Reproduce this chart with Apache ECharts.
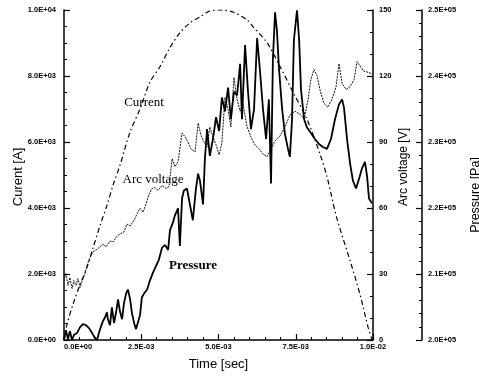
<!DOCTYPE html>
<html>
<head>
<meta charset="utf-8">
<script src="https://cdn.jsdelivr.net/npm/echarts@6/dist/echarts.min.js"></script>
<style>
html,body{margin:0;padding:0;background:#fff;}
#chart{width:479px;height:376px;}
</style>
</head>
<body>
<div id="chart"></div>
<script>
// Time values are in milliseconds; axis labels show seconds.
const currentPoints = [[0,0],[0.10,480],[0.29,1080],[0.52,1680],[0.74,2190],[0.94,2790],[1.17,3480],[1.39,4080],[1.59,4700],[1.81,5290],[2.14,6310],[2.46,7000],[2.78,7810],[3.11,8290],[3.43,8860],[3.75,9310],[4.08,9610],[4.40,9790],[4.72,9970],[5.05,10000],[5.47,9940],[5.92,9700],[6.12,9490],[6.57,9010],[6.99,8290],[7.41,7510],[7.86,6700],[8.28,5650],[8.51,4950],[8.83,3690],[9.26,2400],[9.58,1380],[9.84,390],[9.97,0]];

const voltagePoints = [[0,27.5],[0.06,30.2],[0.13,24.8],[0.19,28.4],[0.26,23.4],[0.32,27.0],[0.39,24.8],[0.45,27.9],[0.52,23.9],[0.58,26.6],[0.68,30.2],[0.74,33.8],[0.84,37.4],[0.94,40.1],[1.04,41.0],[1.17,42.3],[1.26,43.7],[1.36,42.3],[1.49,45.0],[1.59,44.6],[1.72,47.3],[1.81,48.2],[1.94,49.1],[2.04,52.7],[2.14,51.8],[2.27,54.5],[2.36,57.2],[2.46,59.9],[2.56,58.1],[2.65,61.7],[2.75,66.2],[2.85,68.9],[2.94,69.3],[3.04,68.0],[3.17,70.2],[3.30,68.9],[3.40,69.8],[3.50,82.4],[3.59,78.8],[3.69,81.0],[3.82,94.1],[3.92,92.3],[4.01,90.0],[4.11,86.9],[4.24,85.5],[4.34,98.6],[4.43,93.2],[4.53,90.0],[4.63,87.8],[4.72,96.8],[4.82,92.3],[4.92,88.7],[5.02,84.2],[5.11,89.6],[5.21,110.3],[5.31,104.9],[5.40,96.8],[5.50,119.3],[5.60,109.4],[5.70,104.0],[5.79,107.6],[5.92,97.2],[6.05,92.3],[6.18,88.7],[6.31,86.9],[6.44,84.6],[6.57,83.3],[6.70,86.9],[6.83,90.5],[6.99,92.7],[7.15,96.8],[7.31,102.2],[7.48,104.0],[7.64,102.6],[7.77,100.4],[7.90,109.4],[7.99,118.4],[8.09,122.9],[8.19,120.2],[8.28,113.9],[8.41,107.6],[8.54,105.8],[8.67,109.4],[8.80,114.8],[8.90,125.6],[9.00,116.6],[9.13,113.9],[9.26,115.2],[9.39,118.4],[9.48,126.5],[9.58,124.7],[9.68,122.4],[9.77,122.0],[9.87,121.5],[9.97,121.1]];

const pressurePoints = [[0,200000],[0.06,201500],[0.13,200150],[0.19,201350],[0.26,200000],[0.32,200750],[0.42,201050],[0.52,201950],[0.61,202400],[0.71,202250],[0.81,201800],[0.91,201050],[1.00,200300],[1.07,200000],[1.13,201050],[1.20,202100],[1.26,202850],[1.33,203450],[1.39,204200],[1.42,203150],[1.49,202250],[1.55,204950],[1.62,202550],[1.68,204050],[1.75,206150],[1.81,204350],[1.88,203150],[1.94,205550],[2.01,207050],[2.07,207650],[2.14,206150],[2.20,204050],[2.27,202550],[2.33,201650],[2.39,201950],[2.46,203750],[2.52,206450],[2.59,207050],[2.69,207650],[2.78,209000],[2.88,210200],[2.98,211250],[3.07,212150],[3.17,213950],[3.27,214400],[3.37,213650],[3.43,216650],[3.53,217850],[3.59,218900],[3.69,219950],[3.75,214250],[3.82,221450],[3.88,222650],[3.98,222950],[4.08,220400],[4.17,218150],[4.27,222950],[4.34,225200],[4.40,224150],[4.50,220550],[4.56,227450],[4.63,231950],[4.72,227900],[4.82,230450],[4.92,233750],[5.02,231650],[5.11,236750],[5.21,234650],[5.31,238250],[5.40,233450],[5.50,237650],[5.60,237050],[5.70,241850],[5.76,233450],[5.86,244700],[5.95,237950],[6.05,231950],[6.15,234950],[6.25,245750],[6.34,240950],[6.44,234950],[6.54,230450],[6.63,236450],[6.70,223700],[6.76,242450],[6.83,249650],[6.89,246950],[6.96,240950],[7.06,234950],[7.15,231200],[7.25,228950],[7.31,227750],[7.38,233450],[7.44,245450],[7.54,249950],[7.61,245450],[7.67,237950],[7.77,233450],[7.86,232250],[7.99,231350],[8.12,230450],[8.25,229700],[8.38,229250],[8.51,228950],[8.64,230450],[8.77,233450],[8.90,235700],[9.00,236450],[9.06,235250],[9.16,230450],[9.26,226700],[9.35,224150],[9.45,222950],[9.55,224450],[9.64,225950],[9.74,227000],[9.81,224750],[9.87,221450],[9.97,220700]];

const timeRangeMs = [0, 10];
const currentRange = [0, 10000];
const voltageRange = [0, 150];
const pressureRange = [200000, 250000];

function sci(v) {
  if (v === 0) return '0.0E+00';
  let e = Math.floor(Math.log10(Math.abs(v)) + 1e-9);
  let m = v / Math.pow(10, e);
  if (Math.round(m * 10) / 10 >= 10) { m /= 10; e++; }
  return m.toFixed(1) + 'E' + (e < 0 ? '-' : '+') + String(Math.abs(e)).padStart(2, '0');
}

const FONT = 'Liberation Sans, Arial, sans-serif';
const SERIF = 'Liberation Serif, Times New Roman, serif';
const tickLbl = {fontSize: 7.5, color: '#000', fontFamily: FONT, fontWeight: 'bold'};
const axLine = {show: true, lineStyle: {color: '#000', width: 1.5}};

const chart = echarts.init(document.getElementById('chart'), null, {renderer: 'canvas'});
chart.setOption({
  animation: false,
  backgroundColor: '#fff',
  grid: {left: 64, right: 106, top: 10, bottom: 33, containLabel: false},
  xAxis: {
    type: 'value', min: timeRangeMs[0], max: timeRangeMs[1], interval: 2.5,
    axisLine: axLine,
    axisTick: {show: true, inside: true, length: 6, lineStyle: {color: '#000', width: 1.2}},
    minorTick: {show: true, splitNumber: 5, length: 3, lineStyle: {color: '#000', width: 1}},
    splitLine: {show: false},
    axisLabel: Object.assign({margin: 3, formatter: v => sci(v * 1e-3), alignMinLabel: 'left'}, tickLbl),
    name: 'Time [sec]', nameLocation: 'middle', nameGap: 18,
    nameTextStyle: {fontSize: 13, fontFamily: FONT, color: '#000'}
  },
  yAxis: [
    {
      type: 'value', position: 'left', min: currentRange[0], max: currentRange[1], interval: 2000,
      axisLine: axLine,
      axisTick: {show: true, inside: true, length: 6, lineStyle: {color: '#000', width: 1.2}},
      minorTick: {show: true, splitNumber: 4, length: 3, lineStyle: {color: '#000', width: 1}},
      splitLine: {show: false},
      axisLabel: Object.assign({margin: 8, formatter: v => sci(v)}, tickLbl)
    },
    {
      type: 'value', position: 'right', offset: 0, min: voltageRange[0], max: voltageRange[1], interval: 30,
      axisLine: axLine,
      axisTick: {show: true, inside: true, length: 6, lineStyle: {color: '#000', width: 1.2}},
      minorTick: {show: true, splitNumber: 3, length: 3, lineStyle: {color: '#000', width: 1}},
      splitLine: {show: false},
      axisLabel: Object.assign({margin: 6}, tickLbl)
    },
    {
      type: 'value', position: 'right', offset: 49, min: pressureRange[0], max: pressureRange[1], interval: 10000,
      axisLine: axLine,
      axisTick: {show: true, inside: true, length: 6, lineStyle: {color: '#000', width: 1.2}},
      minorTick: {show: true, splitNumber: 5, length: 3, lineStyle: {color: '#000', width: 1}},
      splitLine: {show: false},
      axisLabel: Object.assign({margin: 6, formatter: v => sci(v)}, tickLbl)
    }
  ],
  series: [
    {
      name: 'Current', type: 'line', yAxisIndex: 0, data: currentPoints, showSymbol: false, smooth: 0.3,
      lineStyle: {color: '#000', width: 1.2, type: [5, 3, 1.5, 3]}
    },
    {
      name: 'Arc voltage', type: 'line', yAxisIndex: 1, data: voltagePoints, showSymbol: false,
      lineStyle: {color: '#111', width: 1, type: [2, 1]}
    },
    {
      name: 'Pressure', type: 'line', yAxisIndex: 2, data: pressurePoints, showSymbol: false,
      lineStyle: {color: '#000', width: 1.8}
    }
  ],
  graphic: [
    {type: 'text', x: 18, y: 177, rotation: Math.PI / 2,
     style: {text: 'Curent [A]', fontSize: 13, fontFamily: FONT, fill: '#000', align: 'center', verticalAlign: 'middle', textAlign: 'center', textVerticalAlign: 'middle'}},
    {type: 'text', x: 404, y: 167, rotation: Math.PI / 2,
     style: {text: 'Arc voltage [V]', fontSize: 12, fontFamily: FONT, fill: '#000', align: 'center', verticalAlign: 'middle', textAlign: 'center', textVerticalAlign: 'middle'}},
    {type: 'text', x: 476, y: 195, rotation: Math.PI / 2,
     style: {text: 'Pressure [Pa]', fontSize: 12.5, fontFamily: FONT, fill: '#000', align: 'center', verticalAlign: 'middle', textAlign: 'center', textVerticalAlign: 'middle'}},
    {type: 'text', x: 144, y: 103,
     style: {text: 'Current', fontSize: 13, fontFamily: SERIF, fill: '#000', align: 'center', verticalAlign: 'middle', textAlign: 'center', textVerticalAlign: 'middle'}},
    {type: 'text', x: 153, y: 180,
     style: {text: 'Arc voltage', fontSize: 13, fontFamily: SERIF, fill: '#000', align: 'center', verticalAlign: 'middle', textAlign: 'center', textVerticalAlign: 'middle'}},
    {type: 'text', x: 193, y: 266,
     style: {text: 'Pressure', fontSize: 13, fontFamily: SERIF, fontWeight: 'bold', fill: '#000', align: 'center', verticalAlign: 'middle', textAlign: 'center', textVerticalAlign: 'middle'}}
  ]
});
</script>
</body>
</html>
